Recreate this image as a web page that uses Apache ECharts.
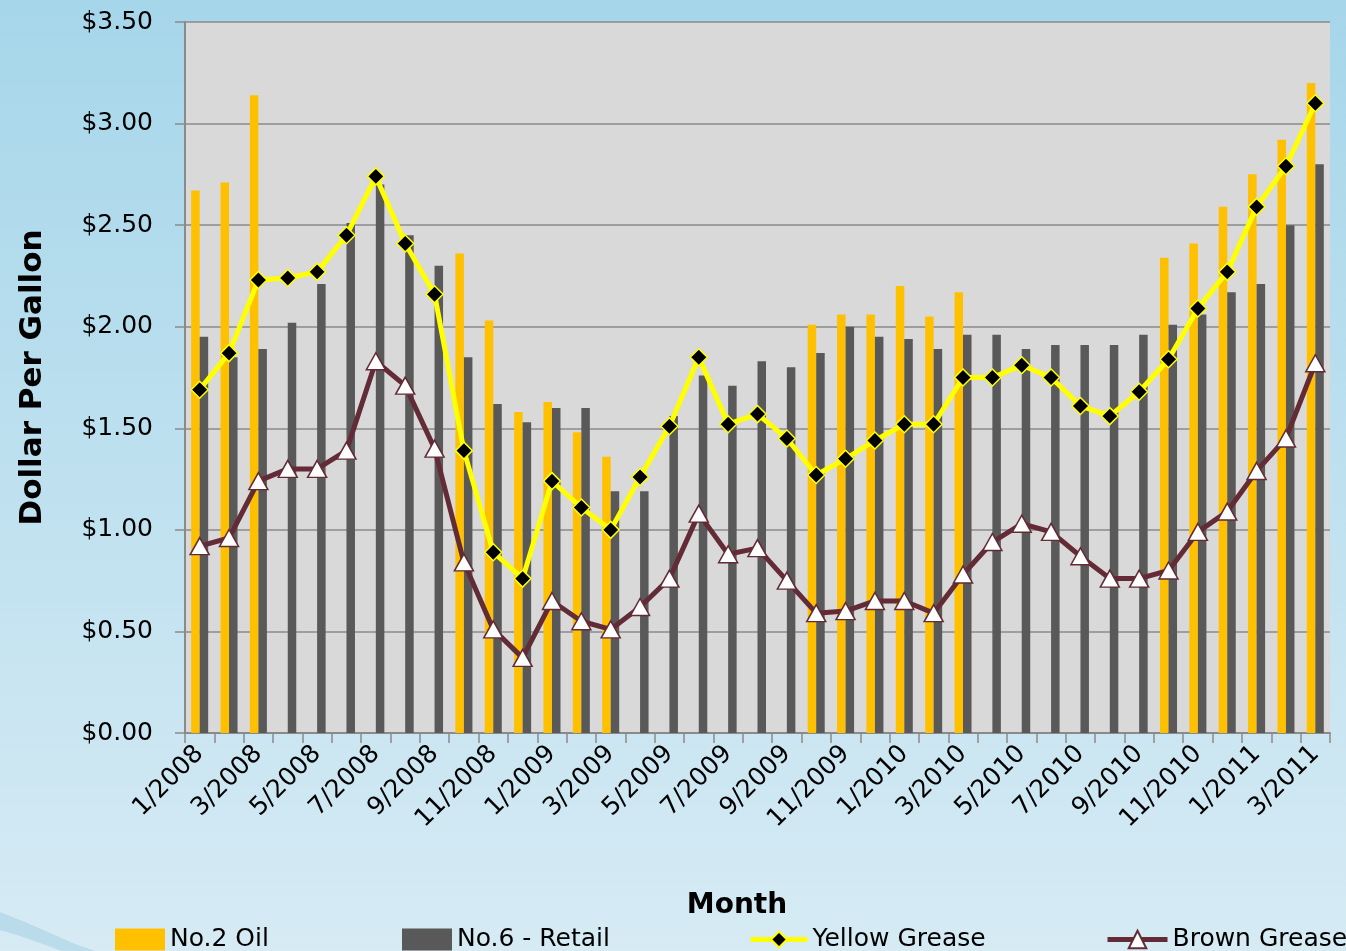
<!DOCTYPE html>
<html>
<head>
<meta charset="utf-8">
<script src="https://cdn.jsdelivr.net/npm/echarts@6/dist/echarts.min.js"></script>
<style>
html,body{margin:0;padding:0;background:#bfe0ee;}
#chart{width:1346px;height:951px;}
</style>
</head>
<body>
<div id="chart"></div>
<script>
const categories = ["1/2008","2/2008","3/2008","4/2008","5/2008","6/2008","7/2008","8/2008","9/2008","10/2008","11/2008","12/2008",
  "1/2009","2/2009","3/2009","4/2009","5/2009","6/2009","7/2009","8/2009","9/2009","10/2009","11/2009","12/2009",
  "1/2010","2/2010","3/2010","4/2010","5/2010","6/2010","7/2010","8/2010","9/2010","10/2010","11/2010","12/2010",
  "1/2011","2/2011","3/2011"];
const no2Oil = [2.67, 2.71, 3.14, null, null, null, null, null, null, 2.36, 2.03, 1.58, 1.63, 1.48, 1.36,
  null, null, null, null, null, null, 2.01, 2.06, 2.06, 2.20, 2.05, 2.17,
  null, null, null, null, null, null, 2.34, 2.41, 2.59, 2.75, 2.92, 3.20];
const no6Retail = [1.95, 1.85, 1.89, 2.02, 2.21, 2.51, 2.70, 2.45, 2.30, 1.85, 1.62, 1.53, 1.60, 1.60, 1.19,
  1.19, 1.56, 1.76, 1.71, 1.83, 1.80, 1.87, 2.00, 1.95, 1.94, 1.89, 1.96, 1.96, 1.89, 1.91, 1.91, 1.91, 1.96,
  2.01, 2.06, 2.17, 2.21, 2.50, 2.80];
const yellowGrease = [1.69, 1.87, 2.23, 2.24, 2.27, 2.45, 2.74, 2.41, 2.16, 1.39, 0.89, 0.76, 1.24, 1.11, 1.00,
  1.26, 1.51, 1.85, 1.52, 1.57, 1.45, 1.27, 1.35, 1.44, 1.52, 1.52, 1.75, 1.75, 1.81, 1.75, 1.61, 1.56, 1.68,
  1.84, 2.09, 2.27, 2.59, 2.79, 3.10];
const brownGrease = [0.92, 0.96, 1.24, 1.30, 1.30, 1.39, 1.83, 1.71, 1.40, 0.84, 0.51, 0.37, 0.65, 0.55, 0.51,
  0.62, 0.76, 1.08, 0.88, 0.91, 0.75, 0.59, 0.60, 0.65, 0.65, 0.59, 0.78, 0.94, 1.03, 0.99, 0.87, 0.76, 0.76,
  0.80, 0.99, 1.09, 1.29, 1.45, 1.82];
const seriesNames = ["No.2 Oil", "No.6 - Retail", "Yellow Grease", "Brown Grease"];
const yTitle = "Dollar Per Gallon";
const xTitle = "Month";

const FONT = "'DejaVu Sans', Verdana, sans-serif";
const chart = echarts.init(document.getElementById('chart'), null, {renderer: 'canvas'});
const legendBase = {
  orient: 'horizontal', top: 927, padding: 0, itemGap: 0,
  textStyle: {fontFamily: FONT, fontSize: 25, color: '#000'}
};
const option = {
  animation: false,
  backgroundColor: new echarts.graphic.LinearGradient(0, 0, 0, 1, [
    {offset: 0, color: '#a6d6ea'}, {offset: 1, color: '#d6ebf4'}
  ]),
  textStyle: {fontFamily: FONT},
  graphic: [{
    type: 'polygon', z: -1, silent: true,
    shape: {points: [[0, 912], [25, 922], [50, 933], [75, 944], [95, 951], [62, 951], [40, 943], [20, 936], [0, 930]]},
    style: {fill: 'rgba(160,205,224,0.5)'}
  }],
  title: {
    text: xTitle, left: 737, top: 892, padding: 0, textAlign: 'center',
    textStyle: {fontFamily: FONT, fontSize: 28, fontWeight: 'bold', color: '#000'}
  },
  legend: [
    Object.assign({}, legendBase, {left: 115, data: [seriesNames[0]], icon: 'rect', itemWidth: 50, itemHeight: 22}),
    Object.assign({}, legendBase, {left: 402, data: [seriesNames[1]], icon: 'rect', itemWidth: 50, itemHeight: 22}),
    Object.assign({}, legendBase, {left: 748, data: [seriesNames[2]], itemWidth: 57, itemHeight: 20,
      lineStyle: {width: 5}}),
    Object.assign({}, legendBase, {left: 1105, data: [seriesNames[3]], itemWidth: 60, itemHeight: 22,
      lineStyle: {width: 5}})
  ],
  grid: {left: 185, right: 16, top: 22, bottom: 218, outerBoundsMode: 'none', containLabel: false,
    show: true, backgroundColor: '#d9d9d9', borderWidth: 0},
  xAxis: {
    type: 'category', data: categories, boundaryGap: true,
    axisLine: {show: true, lineStyle: {color: '#8a8a8a', width: 2}},
    axisTick: {show: true, interval: 0, length: 10, lineStyle: {color: '#8a8a8a', width: 1.5}},
    axisLabel: {interval: 1, rotate: 45, margin: 17, fontFamily: FONT, fontSize: 25, color: '#000'},
    splitLine: {show: false}
  },
  yAxis: {
    type: 'value', min: 0, max: 3.5, interval: 0.5,
    name: yTitle, nameLocation: 'middle', nameGap: 137, nameRotate: 90,
    nameTextStyle: {fontFamily: FONT, fontSize: 31, fontWeight: 'bold', color: '#000'},
    axisLine: {show: true, lineStyle: {color: '#8a8a8a', width: 2}},
    axisTick: {show: true, length: 10, lineStyle: {color: '#8a8a8a', width: 1.5}},
    axisLabel: {margin: 32, fontFamily: FONT, fontSize: 25, color: '#000',
      formatter: v => '$' + v.toFixed(2)},
    splitLine: {show: true, lineStyle: {color: '#8a8a8a', width: 1.5}}
  },
  series: [
    {name: seriesNames[0], type: 'bar', data: no2Oil, barWidth: 8.5, barGap: '0%',
      itemStyle: {color: '#ffc000'}},
    {name: seriesNames[1], type: 'bar', data: no6Retail, barWidth: 8.5, barGap: '0%',
      itemStyle: {color: '#595959'}},
    {name: seriesNames[2], type: 'line', data: yellowGrease, z: 4,
      symbol: 'diamond', symbolSize: 17,
      lineStyle: {color: '#ffff00', width: 5},
      itemStyle: {color: '#000000', borderColor: '#ffff00', borderWidth: 1.5}},
    {name: seriesNames[3], type: 'line', data: brownGrease, z: 3,
      symbol: 'triangle', symbolSize: [19, 17],
      lineStyle: {color: '#632b36', width: 5},
      itemStyle: {color: '#ffffff', borderColor: '#632b36', borderWidth: 1.5}}
  ]
};
chart.setOption(option);
</script>
</body>
</html>
